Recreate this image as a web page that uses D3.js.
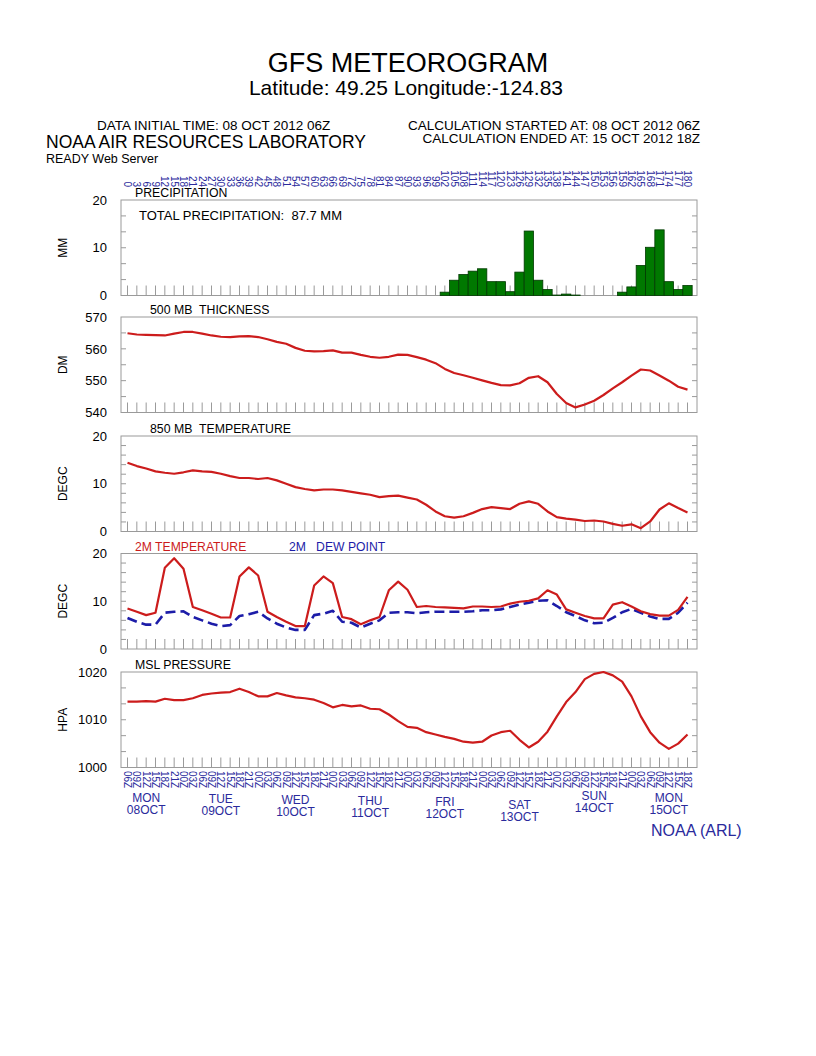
<!DOCTYPE html>
<html><head><meta charset="utf-8">
<script src="https://cdn.jsdelivr.net/npm/d3@7"></script>
<style>body{margin:0;background:#fff} svg{display:block;font-family:"Liberation Sans",Arial,sans-serif} text{white-space:pre}</style>
</head><body><svg id="c" width="816" height="1056"></svg>
<script>
// ---------- DATA ----------
const hours = [0,3,6,9,12,15,18,21,24,27,30,33,36,39,42,45,48,51,54,57,60,63,66,69,72,75,78,81,84,87,90,93,96,99,102,105,108,111,114,117,120,123,126,129,132,135,138,141,144,147,150,153,156,159,162,165,168,171,174,177,180];
const timeLabels = ["06Z","09Z","12Z","15Z","18Z","21Z","00Z","03Z","06Z","09Z","12Z","15Z","18Z","21Z","00Z","03Z","06Z","09Z","12Z","15Z","18Z","21Z","00Z","03Z","06Z","09Z","12Z","15Z","18Z","21Z","00Z","03Z","06Z","09Z","12Z","15Z","18Z","21Z","00Z","03Z","06Z","09Z","12Z","15Z","18Z","21Z","00Z","03Z","06Z","09Z","12Z","15Z","18Z","21Z","00Z","03Z","06Z","09Z","12Z","15Z","18Z"];
const dayNames = ["MON","TUE","WED","THU","FRI","SAT","SUN","MON"];
const dayDates = ["08OCT","09OCT","10OCT","11OCT","12OCT","13OCT","14OCT","15OCT"];
const dayHours = [6,30,54,78,102,126,150,174];
const dayYOffsets = [0,1,2,3,4,7,-2,0];

const precip = [0,0,0,0,0,0,0,0,0,0, 0,0,0,0,0,0,0,0,0,0, 0,0,0,0,0,0,0,0,0,0, 0,0,0,0,
  0.7,3.2,4.4,5.1,5.6,2.9,2.9,0.8,4.9,13.5,3.2,1.25,0.1,0.3,0.1,0,0,0,0,0.7,1.8,6.3,10.1,13.75,2.9,1.25,2.1];
const thickness = [564.9,564.5,564.4,564.3,564.2,564.8,565.3,565.3,564.8,564.2,
  563.8,563.7,563.9,564.0,563.7,563.0,562.2,561.6,560.3,559.4,
  559.2,559.3,559.5,558.8,558.8,558.1,557.5,557.2,557.5,558.2,
  558.1,557.4,556.6,555.5,553.7,552.4,551.7,550.9,550.1,549.3,
  548.6,548.5,549.2,550.9,551.4,549.5,545.8,543.0,541.6,542.5,
  543.7,545.5,547.6,549.5,551.6,553.5,553.2,551.6,550.0,548.1,547.2];
const t850 = [14.4,13.7,13.2,12.6,12.3,12.1,12.4,12.8,12.6,12.5,
  12.1,11.6,11.2,11.2,11.0,11.2,10.7,10.0,9.3,8.9,
  8.6,8.8,8.8,8.6,8.3,8.0,7.7,7.2,7.4,7.5,
  7.1,6.7,5.6,4.2,3.2,2.9,3.2,3.9,4.7,5.1,
  4.9,4.7,5.8,6.3,5.8,4.2,3.0,2.7,2.5,2.2,
  2.3,2.1,1.6,1.2,1.5,0.7,2.1,4.6,5.9,4.9,4.0];
const t2m = [8.5,7.8,7.1,7.6,17.0,19.0,16.8,8.8,8.1,7.4,
  6.6,6.6,15.2,17.1,15.4,7.8,6.7,5.7,4.8,4.8,
  13.3,15.2,13.8,6.7,6.25,5.2,6.0,6.7,12.3,14.1,
  12.4,8.8,9.0,8.8,8.7,8.6,8.5,8.9,8.9,8.8,
  8.9,9.5,9.9,10.1,10.6,12.3,11.4,8.3,7.6,6.9,
  6.4,6.4,9.3,9.8,8.9,7.9,7.3,7.0,7.0,8.2,10.9];
const dew2m = [6.5,5.7,5.1,5.1,7.6,7.8,7.9,6.7,6.0,5.3,
  4.8,5.0,6.9,7.3,7.8,6.4,5.3,4.5,4.0,4.0,
  7.1,7.4,8.0,5.7,5.5,4.5,5.3,6.0,7.6,7.7,
  7.7,7.5,7.7,7.8,7.8,7.8,7.8,7.9,8.1,8.1,
  8.3,8.8,9.3,9.7,10.1,10.2,9.0,7.7,6.9,6.0,
  5.4,5.5,6.5,7.7,8.4,7.6,6.8,6.3,6.3,7.6,9.7];
const mslp = [1013.8,1013.8,1013.9,1013.8,1014.4,1014.1,1014.1,1014.5,1015.2,1015.5,
  1015.7,1015.8,1016.5,1015.8,1014.9,1014.9,1015.6,1015.1,1014.7,1014.5,
  1014.2,1013.5,1012.6,1013.1,1012.8,1013.0,1012.3,1012.2,1011.1,1009.7,
  1008.5,1008.3,1007.4,1006.9,1006.4,1006.0,1005.4,1005.2,1005.4,1006.7,
  1007.4,1007.7,1005.8,1004.2,1005.4,1007.5,1010.7,1013.7,1015.8,1018.5,
  1019.6,1020.0,1019.3,1018.0,1014.9,1010.7,1007.4,1005.2,1003.9,1005.0,1006.9];

// ---------- DRAW ----------
const svg = d3.select("#c");
const FONT = '"Liberation Sans",Arial,sans-serif';
const NAVY = "#2a2a9c";
const RED = "#cc1c1c";
const BLUE = "#1c1ca8";
const GRID = "#9a9a9a";

const x = d3.scaleLinear().domain([0,180]).range([127.5,687.5]);
const boxL = 121, boxR = 697;

function txt(s, xx, yy, size, opts={}) {
  return svg.append("text").attr("x", xx).attr("y", yy)
    .attr("font-size", size).attr("font-family", FONT)
    .attr("fill", opts.fill || "#000")
    .attr("text-anchor", opts.anchor || "start")
    .text(s);
}

// Header
txt("GFS METEOROGRAM", 408, 72, 27, {anchor:"middle"});
txt("Latitude: 49.25 Longitude:-124.83", 406, 95, 21, {anchor:"middle"});
txt("DATA INITIAL TIME: 08 OCT 2012 06Z", 97, 130, 13.5);
txt("CALCULATION STARTED AT: 08 OCT 2012 06Z", 700, 130, 13.5, {anchor:"end"});
txt("CALCULATION ENDED AT: 15 OCT 2012 18Z", 700, 143, 13.5, {anchor:"end"});
txt("NOAA AIR RESOURCES LABORATORY", 46, 147.5, 17.5);
txt("READY Web Server", 46, 163, 12.5);

// Top hour axis labels
svg.append("g").selectAll("text").data(hours).join("text")
  .attr("transform", d => `translate(${x(d)},187) rotate(90)`)
  .attr("dy", "0.35em")
  .attr("text-anchor", "end")
  .attr("font-size", 10).attr("font-family", FONT).attr("fill", NAVY)
  .text(d => d);

// Panels
const panels = [
  {top:200, domain:[0,20], ticks:[0,10,20], minor:6, label:"MM", title:"PRECIPITATION", tx:135},
  {top:317, domain:[540,570], ticks:[540,550,560,570], minor:6, label:"DM", title:"500 MB  THICKNESS", tx:150},
  {top:436, domain:[0,20], ticks:[0,10,20], minor:10, label:"DEGC", title:"850 MB  TEMPERATURE", tx:150},
  {top:553.5, domain:[0,20], ticks:[0,10,20], minor:10, label:"DEGC", title:null, tx:135},
  {top:672, domain:[1000,1020], ticks:[1000,1010,1020], minor:6, label:"HPA", title:"MSL PRESSURE", tx:135}
];
const H = 95.5;

panels.forEach((p, k) => {
  const y = d3.scaleLinear().domain(p.domain).range([p.top + H, p.top]);
  p.y = y;
  const g = svg.append("g");
  g.append("rect").attr("x", boxL).attr("y", p.top).attr("width", boxR-boxL).attr("height", H)
    .attr("fill", "none").attr("stroke", GRID).attr("stroke-width", 1);
  // bottom hour ticks
  g.selectAll("line.ht").data(hours).join("line")
    .attr("x1", d => x(d)).attr("x2", d => x(d))
    .attr("y1", p.top + H).attr("y2", p.top + H - 10)
    .attr("stroke", GRID).attr("stroke-width", 1);
  // minor ticks on left and right borders
  const mt = d3.range(1, p.minor).map(i => p.top + H * i / p.minor);
  g.selectAll("line.ml").data(mt).join("line")
    .attr("x1", boxL).attr("x2", boxL + 5).attr("y1", d => d).attr("y2", d => d)
    .attr("stroke", GRID);
  g.selectAll("line.mr").data(mt).join("line")
    .attr("x1", boxR - 5).attr("x2", boxR).attr("y1", d => d).attr("y2", d => d)
    .attr("stroke", GRID);
  // y tick labels via axis
  const ax = d3.axisLeft(y).tickValues(p.ticks).tickSize(0).tickPadding(0).tickFormat(d3.format("d"));
  const ag = svg.append("g").attr("transform", "translate(107,0)").call(ax);
  ag.select(".domain").remove();
  ag.selectAll("text").attr("font-size", 13).attr("font-family", FONT).attr("fill", "#000");
  // y title
  svg.append("text").attr("transform", `translate(67,${p.top + H/2}) rotate(-90)`)
    .attr("text-anchor", "middle").attr("font-size", 12).attr("font-family", FONT).text(p.label);
  if (p.title) txt(p.title, p.tx, p.top - 3, 12.3);
});

// Precipitation bars
const pY = panels[0].y;
const bw = x(3) - x(0);
svg.append("g").selectAll("rect").data(hours.map((h,i)=>({h, v:precip[i]})).filter(d=>d.v>0)).join("rect")
  .attr("x", d => x(d.h) - bw/2).attr("width", bw)
  .attr("y", d => pY(d.v)).attr("height", d => pY(0) - pY(d.v))
  .attr("fill", "#007800").attr("stroke", "#003800").attr("stroke-width", 0.8);
txt("TOTAL PRECIPITATION:  87.7 MM", 139, 220, 13);

// Line helper
function drawLine(vals, yScale, color, width, dash) {
  const line = d3.line().x((d,i) => x(hours[i])).y(d => yScale(d));
  const path = svg.append("path").datum(vals).attr("d", line)
    .attr("fill", "none").attr("stroke", color).attr("stroke-width", width)
    .attr("stroke-linejoin", "round");
  if (dash) path.attr("stroke-dasharray", dash);
}
drawLine(thickness, panels[1].y, RED, 2.2);
drawLine(t850, panels[2].y, RED, 2.2);
drawLine(dew2m, panels[3].y, BLUE, 2.6, "10,5");
drawLine(t2m, panels[3].y, RED, 2.2);
drawLine(mslp, panels[4].y, RED, 2.2);

// 2M legend labels
txt("2M TEMPERATURE", 135, 551, 12.2, {fill: RED});
txt("2M   DEW POINT", 289, 551, 12.2, {fill: BLUE});

// Bottom time labels
svg.append("g").selectAll("text").data(hours).join("text")
  .attr("transform", d => `translate(${x(d)},771) rotate(90)`)
  .attr("dy", "0.35em")
  .attr("font-size", 10).attr("font-family", FONT).attr("fill", NAVY)
  .text((d,i) => timeLabels[i]);

// Day labels
dayHours.forEach((h, i) => {
  txt(dayNames[i], x(h), 802 + dayYOffsets[i], 12, {anchor:"middle", fill:NAVY});
  txt(dayDates[i], x(h), 814 + dayYOffsets[i], 12, {anchor:"middle", fill:NAVY});
});
txt("NOAA (ARL)", 651, 836, 16, {fill:NAVY});
</script></body></html>
